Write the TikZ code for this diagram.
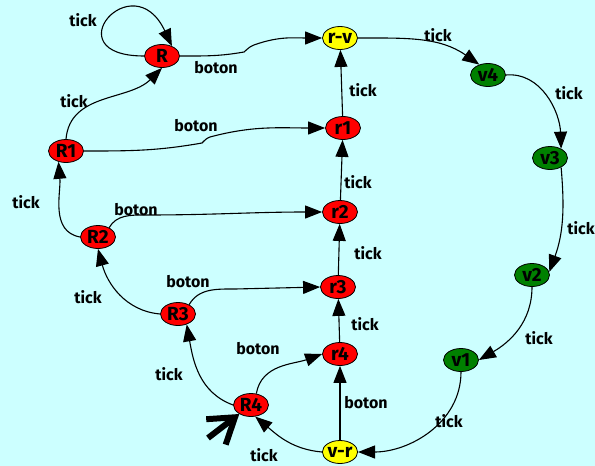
\documentclass[tikz,border=0pt]{standalone}
\usepackage{fontspec}
\setmainfont{Fira Sans}
\usetikzlibrary{arrows.meta,shapes.geometric}
\definecolor{bg}{RGB}{204,255,255}
\definecolor{stred}{RGB}{255,0,0}
\definecolor{stgreen}{RGB}{0,128,0}
\definecolor{styellow}{RGB}{255,255,0}
\tikzset{
  st/.style={ellipse,draw,line width=0.8pt,minimum width=35pt,minimum height=23pt,
    inner sep=0pt,font=\fontsize{19}{19}\selectfont\bfseries},
  red st/.style={st,fill=stred},
  green st/.style={st,fill=stgreen},
  yellow st/.style={st,fill=styellow},
  tr/.style={line width=1.1pt,-{Triangle[length=17pt,width=13pt]}},
  lbl/.style={font=\fontsize{16}{16}\selectfont\bfseries},
  init/.style={line width=6pt,-{Straight Barb[length=24pt,width=32pt]}}
}

\begin{document}
\begin{tikzpicture}[x=1pt,y=1pt]
\useasboundingbox (0,0) rectangle (595,-466);
\fill[bg] (0,0) rectangle (595,-466);

% states
\node[red st] (R) at (162,-56) {R};
\node[red st] (R1) at (66,-151) {R1};
\node[red st] (R2) at (98,-237) {R2};
\node[red st] (R3) at (178,-314) {R3};
\node[red st] (R4) at (251,-405) {R4};
\node[yellow st] (rv) at (340,-38) {r-v};
\node[red st] (r1) at (343,-128) {r1};
\node[red st] (r2) at (340,-212) {r2};
\node[red st] (r3) at (338,-287) {r3};
\node[red st] (r4) at (340,-354) {r4};
\node[yellow st] (vr) at (340,-452) {v-r};
\node[green st] (v4) at (488,-75) {v4};
\node[green st] (v3) at (550,-158) {v3};
\node[green st] (v2) at (532,-275) {v2};
\node[green st] (v1) at (461,-360) {v1};

% left column
\draw[tr] (R.west) to[out=180,in=115,looseness=8] (R.45);
\draw[tr] (R1.north) to[out=85,in=225] (R.south);
\draw[tr] (R2.west) to[out=170,in=-85] (R1.235);
\draw[tr] (R3.west) to[out=175,in=-75] (R2.south);
\draw[tr] (R4.west) to[out=160,in=-80] (R3.-50);
\draw[tr] (vr.west) to[out=175,in=-40] (R4.-70);

% boton
\draw[tr] (R.east) to[out=0,in=190] (244,-52) to[out=40,in=200] (254,-45) to[out=20,in=180] (rv.west);
\draw[tr] (R1.east) to[out=0,in=190] (202,-143) to[out=45,in=200] (210,-137) to[out=15,in=180] (r1.west);
\draw[tr] (R2.40) to[out=60,in=180] (145,-215) to[out=0,in=180] (r2.west);
\draw[tr] (R3.40) to[out=60,in=180] (235,-289) -- (r3.west);
\draw[tr] (R4.65) to[out=80,in=200] (r4.west);
\draw[tr] (vr) -- (r4);

% middle column
\draw[tr] (r4) -- (r3);
\draw[tr] (r3) -- (r2);
\draw[tr] (r2) -- (r1);
\draw[tr] (r1) -- (rv);

% green side
\draw[tr] (rv.east) to[out=0,in=145] (v4.130);
\draw[tr] (v4.east) to[out=5,in=92] (v3.40);
\draw[tr] (v3.-40) to[out=-85,in=70] (v2.10);
\draw[tr] (v2.south) to[out=-90,in=30] (v1.east);
\draw[tr] (v1.south) to[out=-90,in=0] (vr.east);

% start
\coordinate (start) at (208,-438);
\draw[init] (start) -- (R4);

% labels
\node[lbl] (l1) at (83,-20) {tick};
\node[lbl] (l2) at (216,-68) {boton};
\node[lbl] (l3) at (74,-101) {tick};
\node[lbl] (l4) at (196,-126) {boton};
\node[lbl] (l5) at (26,-202) {tick};
\node[lbl] (l6) at (136,-210) {boton};
\node[lbl] (l7) at (88,-297) {tick};
\node[lbl] (l8) at (188,-282) {boton};
\node[lbl] (l9) at (169,-374) {tick};
\node[lbl] (l10) at (258,-349) {boton};
\node[lbl] (l11) at (264,-455) {tick};
\node[lbl] (l12) at (366,-403) {boton};
\node[lbl] (l13) at (365,-324) {tick};
\node[lbl] (l14) at (368,-253) {tick};
\node[lbl] (l15) at (358,-182) {tick};
\node[lbl] (l16) at (363,-90) {tick};
\node[lbl] (l17) at (438,-35) {tick};
\node[lbl] (l18) at (569,-93) {tick};
\node[lbl] (l19) at (581,-228) {tick};
\node[lbl] (l20) at (539,-338) {tick};
\node[lbl] (l21) at (449,-421) {tick};
\end{tikzpicture}
\end{document}
